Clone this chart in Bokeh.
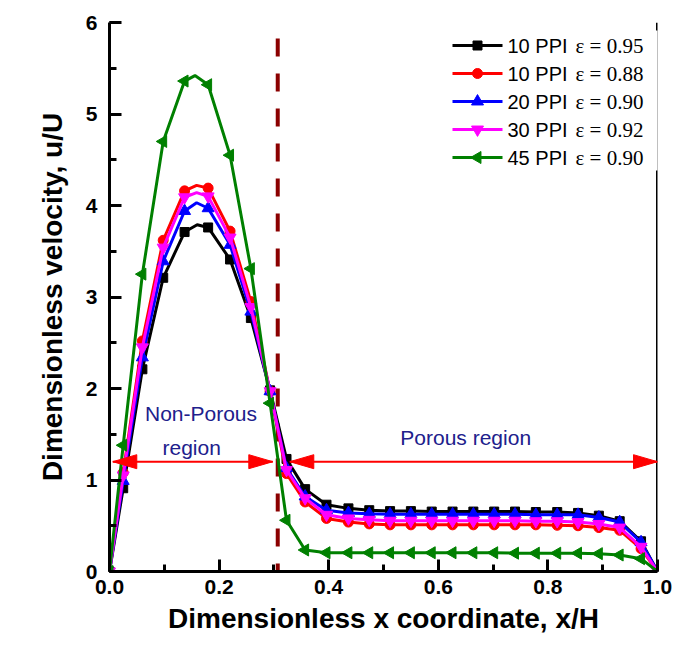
import numpy as np
from bokeh.plotting import figure
from bokeh.models import Range1d, SingleIntervalTicker, NumeralTickFormatter, Span, BoxAnnotation
from bokeh.core.properties import value
from bokeh.embed import file_html
from bokeh.resources import INLINE

# Sampling positions across the channel (x/H)
x_pts = [0.0, 0.025, 0.060, 0.098, 0.137, 0.180, 0.220, 0.258, 0.293,
         0.323, 0.357, 0.396, 0.436, 0.474, 0.512, 0.550, 0.588, 0.626,
         0.664, 0.702, 0.740, 0.778, 0.817, 0.855, 0.893, 0.931, 0.970, 1.0]

# Dimensionless velocity u/U for each foam
u_10ppi_095 = [0, 0.91, 2.21, 3.21, 3.71, 3.76, 3.41, 2.77, 1.98, 1.23, 0.90, 0.73, 0.69, 0.67,
               0.66, 0.66, 0.655, 0.655, 0.655, 0.655, 0.655, 0.65, 0.65, 0.64, 0.61, 0.55, 0.33, 0]
u_10ppi_088 = [0, 1.08, 2.52, 3.62, 4.16, 4.19, 3.72, 2.95, 1.97, 1.07, 0.76, 0.58, 0.54, 0.52,
               0.51, 0.51, 0.51, 0.51, 0.51, 0.51, 0.51, 0.51, 0.505, 0.50, 0.48, 0.45, 0.25, 0]
u_20ppi_090 = [0, 0.99, 2.34, 3.39, 3.94, 3.97, 3.57, 2.84, 1.97, 1.13, 0.82, 0.67, 0.64, 0.63,
               0.625, 0.625, 0.625, 0.625, 0.625, 0.625, 0.625, 0.62, 0.62, 0.62, 0.59, 0.54, 0.32, 0]
u_30ppi_092 = [0, 1.05, 2.45, 3.54, 4.09, 4.10, 3.65, 2.89, 1.97, 1.11, 0.80, 0.62, 0.58, 0.565,
               0.555, 0.555, 0.555, 0.555, 0.555, 0.555, 0.555, 0.55, 0.55, 0.54, 0.52, 0.48, 0.27, 0]
u_45ppi_090 = [0, 1.38, 3.25, 4.70, 5.36, 5.32, 4.55, 3.31, 1.84, 0.56, 0.235, 0.205, 0.205, 0.205,
               0.205, 0.205, 0.205, 0.205, 0.205, 0.205, 0.20, 0.20, 0.20, 0.20, 0.195, 0.18, 0.14, 0]

# apex of each profile (x/H, u/U), between the sampled points
peak_x = [0.160, 0.159, 0.159, 0.159, 0.156]
peak_u = [3.79, 4.22, 4.03, 4.14, 5.42]

ppi_labels = ["10 PPI", "10 PPI", "20 PPI", "30 PPI", "45 PPI"]
eps_labels = ["\u03b5 = 0.95", "\u03b5 = 0.88", "\u03b5 = 0.90", "\u03b5 = 0.92", "\u03b5 = 0.90"]

interface_x = 0.307   # porous / non-porous interface
arrow_y = 1.2

series = [
    (u_10ppi_095, "#000000", "square", 9, 0.0),
    (u_10ppi_088, "#FF0000", "circle", 10, 0.0),
    (u_20ppi_090, "#0000FF", "triangle", 12, 0.0),
    (u_30ppi_092, "#FF00FF", "inverted_triangle", 12, 0.0),
    (u_45ppi_090, "#008000", "triangle", 12, np.pi / 2),
]

# frame geometry (pixels)
LEFT, RIGHT, TOP, BOTTOM = 109, 17, 22, 98
W, H = 674, 669
FW, FH = W - LEFT - RIGHT, H - TOP - BOTTOM
X0, X1, Y0, Y1 = 0.0, 1.0, 0.0, 6.0


def dx(px):
    """horizontal canvas pixel -> data x"""
    return X0 + (px - LEFT) / FW * (X1 - X0)


def dy(py):
    """vertical canvas pixel -> data y"""
    return Y0 + (TOP + FH - py) / FH * (Y1 - Y0)


p = figure(width=W, height=H, x_range=Range1d(X0, X1), y_range=Range1d(Y0, Y1),
           output_backend="svg", toolbar_location=None,
           min_border_left=LEFT, min_border_right=RIGHT,
           min_border_top=TOP, min_border_bottom=BOTTOM)
p.outline_line_color = None
p.grid.visible = False
p.background_fill_color = "white"
p.border_fill_color = "white"

p.xaxis.ticker = SingleIntervalTicker(interval=0.2, num_minor_ticks=2)
p.yaxis.ticker = SingleIntervalTicker(interval=1, num_minor_ticks=2)
p.xaxis.formatter = NumeralTickFormatter(format="0.0")
p.yaxis.formatter = NumeralTickFormatter(format="0")
p.xaxis.axis_label = "Dimensionless x coordinate, x/H"
p.yaxis.axis_label = "Dimensionless velocity, u/U"
for ax in p.axis:
    ax.axis_line_width = 3
    ax.axis_line_color = "black"
    ax.major_tick_in = 12
    ax.major_tick_out = 0
    ax.minor_tick_in = 7
    ax.minor_tick_out = 0
    ax.major_tick_line_width = 3
    ax.minor_tick_line_width = 3
    ax.major_label_text_font = "Liberation Sans"
    ax.major_label_text_font_style = "bold"
    ax.major_label_text_font_size = "21px"
    ax.major_label_text_color = "black"
    ax.axis_label_text_font = "Liberation Sans"
    ax.axis_label_text_font_style = "bold"
    ax.axis_label_text_font_size = "28px"
    ax.axis_label_text_color = "black"
p.xaxis.major_label_standoff = 8
p.xaxis.axis_label_standoff = 6
p.yaxis.major_label_standoff = 12
p.yaxis.axis_label_standoff = 15

# right frame line, partly hidden behind the legend panel
p.add_layout(Span(location=1.0, dimension="height", line_color="black", line_width=3,
                  level="underlay"))
p.add_layout(BoxAnnotation(left=dx(440), right=dx(670), top=dy(30), bottom=dy(170),
                           fill_color="white", fill_alpha=1.0, line_color=None,
                           level="underlay"))

# interface between the open channel and the foam
p.line([interface_x, interface_x], [dy(38), 0], line_color="#8B0000", line_width=4,
       line_dash="18 17")

for (ys, color, marker, size, ang), px_, pu in zip(series, peak_x, peak_u):
    # profile line runs through the sampled points and the apex
    lx = list(x_pts) + [px_]
    ly = list(ys) + [pu]
    order = np.argsort(lx)
    p.line([lx[i] for i in order], [ly[i] for i in order], line_color=color, line_width=3)
    p.scatter(x_pts, ys, marker=marker, size=size, angle=ang,
              fill_color=color, line_color=color)

# region arrows
def arrow(x_start, x_end, y):
    p.segment([x_start], [y], [x_end], [y], line_color="#FF0000", line_width=2)
    L, hw = 24 / FW, 7 / FH * (Y1 - Y0)
    for tip, d in ((x_start, -1), (x_end, 1)):
        base = tip - d * L
        p.patch([tip, base, base], [y, y + hw, y - hw], fill_color="#FF0000",
                line_color="#FF0000", line_width=1)

arrow(0.006, 0.298, arrow_y)
arrow(0.329, 1.0, arrow_y)

region_font = value("Liberation Sans")
p.text([0.167], [1.73], text=["Non-Porous"], text_align="center", text_baseline="middle",
       text_font=region_font, text_font_size="21px", text_color="#20208C")
p.text([0.150], [1.35], text=["region"], text_align="center", text_baseline="middle",
       text_font=region_font, text_font_size="21px", text_color="#20208C")
p.text([0.65], [1.46], text=["Porous region"], text_align="center", text_baseline="middle",
       text_font=region_font, text_font_size="21px", text_color="#20208C")

# legend
rows_py = [45, 73, 101, 129, 157]
for (ys, color, marker, size, ang), ppi, eps, py in zip(series, ppi_labels, eps_labels, rows_py):
    yy = dy(py)
    p.line([dx(452), dx(502)], [yy, yy], line_color=color, line_width=3)
    p.scatter([dx(477)], [yy], marker=marker, size=size, angle=ang,
              fill_color=color, line_color=color)
    p.text([dx(507)], [yy], text=[ppi], text_align="left", text_baseline="middle",
           text_font=value("Liberation Sans"), text_font_size="20px", text_color="black")
    p.text([dx(575)], [yy], text=[eps], text_align="left", text_baseline="middle",
           text_font=value("Liberation Serif"), text_font_size="21px", text_color="black")

open("out.html", "w").write(file_html(p, INLINE))
